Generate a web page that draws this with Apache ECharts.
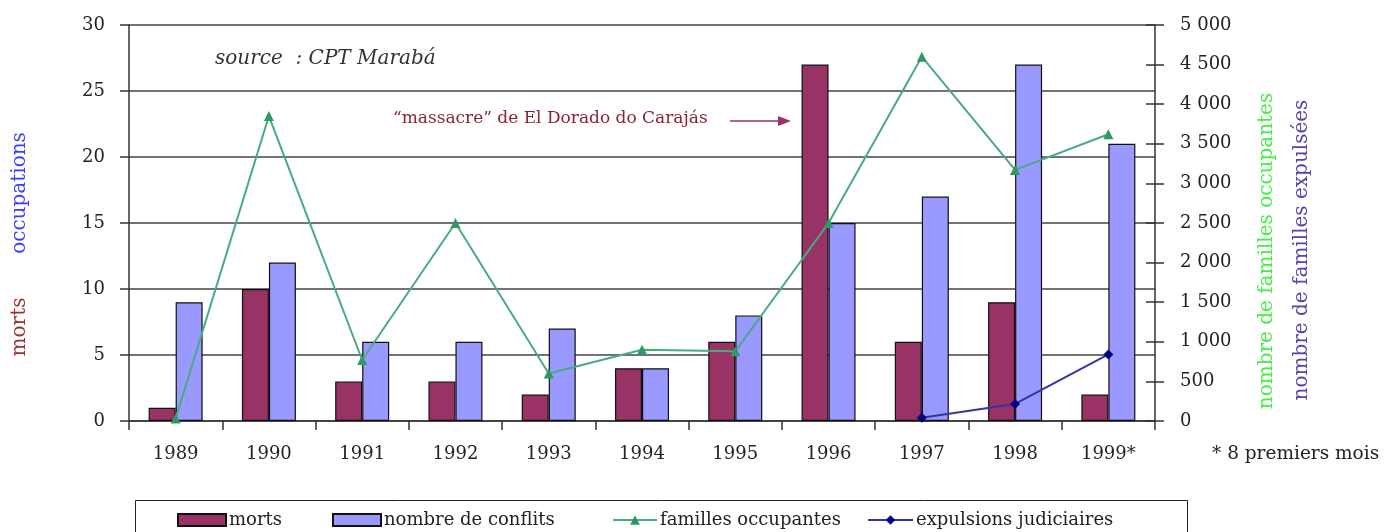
<!DOCTYPE html>
<html>
<head>
<meta charset="utf-8">
<script src="https://cdn.jsdelivr.net/npm/echarts@6/dist/echarts.min.js"></script>
<style>
  html, body { margin: 0; padding: 0; background: #fff; }
  #chart { width: 1389px; height: 532px; }
</style>
</head>
<body>
<div id="chart"></div>
<script>
// Years (1999 covers only the first eight months)
const years = ['1989', '1990', '1991', '1992', '1993', '1994', '1995', '1996', '1997', '1998', '1999*'];
// Left axis: deaths and number of conflicts (occupations)
const morts = [1, 10, 3, 3, 2, 4, 6, 27, 6, 9, 2];
const conflits = [9, 12, 6, 6, 7, 4, 8, 15, 17, 27, 21];
// Right axis: occupying families and families evicted by court order
const famillesOccupantes = [30, 3850, 770, 2500, 600, 900, 880, 2500, 4600, 3170, 3620];
const expulsions = [null, null, null, null, null, null, null, null, 40, 215, 840];
// Axis ticks
const leftTicks = { min: 0, max: 30, interval: 5 };
const rightTicks = { min: 0, max: 5000, interval: 500 };

const FONT = '"DejaVu Serif", "Liberation Serif", serif';
const TXT = '#222';
const FS = 18;

const chart = echarts.init(document.getElementById('chart'), null, { renderer: 'canvas' });

function thousands(v) {
  return String(v).replace(/\B(?=(\d{3})+(?!\d))/g, ' ');
}

const legendBase = {
  top: 511,
  padding: 0,
  itemHeight: 12,
  textStyle: { fontFamily: FONT, fontSize: 18, color: TXT, padding: [0, 0, 0, -2] },
  itemGap: 0
};

chart.setOption({
  animation: false,
  backgroundColor: '#ffffff',
  grid: { left: 129, right: 234, top: 25, bottom: 111, containLabel: false },
  xAxis: {
    type: 'category',
    data: years,
    boundaryGap: true,
    axisLine: { lineStyle: { color: '#333', width: 1.5 } },
    axisTick: { show: true, inside: false, length: 9, alignWithLabel: false, lineStyle: { color: '#333', width: 1.5 } },
    axisLabel: { fontFamily: FONT, fontSize: FS, color: TXT, margin: 24 }
  },
  yAxis: [
    {
      type: 'value',
      position: 'left',
      min: leftTicks.min, max: leftTicks.max, interval: leftTicks.interval,
      axisLine: { show: true, lineStyle: { color: '#333', width: 1.5 } },
      axisTick: { show: true, length: 9, lineStyle: { color: '#333', width: 1.5 } },
      axisLabel: { fontFamily: FONT, fontSize: FS, color: TXT, margin: 24 },
      splitLine: { show: true, lineStyle: { color: '#444', width: 1.6 } }
    },
    {
      type: 'value',
      position: 'right',
      min: rightTicks.min, max: rightTicks.max, interval: rightTicks.interval,
      axisLine: { show: true, lineStyle: { color: '#333', width: 1.5 } },
      axisTick: { show: true, length: 9, lineStyle: { color: '#333', width: 1.5 } },
      axisLabel: { fontFamily: FONT, fontSize: FS, color: TXT, margin: 25, formatter: thousands },
      splitLine: { show: false }
    },
    {
      // inner half of the crossing ticks on the right axis
      type: 'value',
      position: 'right',
      min: rightTicks.min, max: rightTicks.max, interval: rightTicks.interval,
      axisLine: { show: false },
      axisTick: { show: true, inside: true, length: 9, lineStyle: { color: '#333', width: 1.5 } },
      axisLabel: { show: false },
      splitLine: { show: false }
    }
  ],
  legend: [
    Object.assign({}, legendBase, { left: 177, itemWidth: 48, icon: 'rect', data: ['morts'] }),
    Object.assign({}, legendBase, { left: 332, itemWidth: 48, icon: 'rect', data: ['nombre de conflits'] }),
    Object.assign({}, legendBase, { left: 612, itemWidth: 44, data: ['familles occupantes'] }),
    Object.assign({}, legendBase, { left: 867, itemWidth: 45, data: ['expulsions judiciaires'] })
  ],
  series: [
    {
      name: 'morts',
      type: 'bar',
      yAxisIndex: 0,
      data: morts,
      barWidth: 27,
      barGap: '0%',
      itemStyle: { color: '#993366', borderColor: '#111', borderWidth: 1.2 }
    },
    {
      name: 'nombre de conflits',
      type: 'bar',
      yAxisIndex: 0,
      data: conflits,
      barWidth: 27,
      barGap: '0%',
      itemStyle: { color: '#9999ff', borderColor: '#111', borderWidth: 1.2 }
    },
    {
      name: 'familles occupantes',
      type: 'line',
      yAxisIndex: 1,
      data: famillesOccupantes,
      symbol: 'triangle',
      symbolSize: 10,
      lineStyle: { color: '#4aaa80', width: 2 },
      itemStyle: { color: '#2f9966' },
      z: 5
    },
    {
      name: 'expulsions judiciaires',
      type: 'line',
      yAxisIndex: 1,
      data: expulsions,
      symbol: 'diamond',
      symbolSize: 10,
      connectNulls: false,
      lineStyle: { color: '#3333aa', width: 2 },
      itemStyle: { color: '#000080' },
      z: 6
    }
  ],
  graphic: [
    {
      type: 'text', left: 215, top: 49,
      style: { text: 'source  : CPT Marabá', font: 'italic 20px ' + FONT, fill: '#333' }
    },
    {
      type: 'text', left: 393, top: 110,
      style: { text: '“massacre” de El Dorado do Carajás', font: '17px ' + FONT, fill: '#8b2335' }
    },
    {
      type: 'line',
      shape: { x1: 730, y1: 121, x2: 782, y2: 121 },
      style: { stroke: '#993366', lineWidth: 1.5 }
    },
    {
      type: 'polygon',
      shape: { points: [[778, 116], [791, 121], [778, 126]] },
      style: { fill: '#993366' }
    },
    {
      type: 'text', x: 20, y: 193, rotation: Math.PI / 2,
      style: { text: 'occupations', font: '20px ' + FONT, fill: '#3d3dff', align: 'center', verticalAlign: 'middle' }
    },
    {
      type: 'text', x: 20, y: 327, rotation: Math.PI / 2,
      style: { text: 'morts', font: '20px ' + FONT, fill: '#993333', align: 'center', verticalAlign: 'middle' }
    },
    {
      type: 'text', x: 1267, y: 251, rotation: Math.PI / 2,
      style: { text: 'nombre de familles occupantes', font: '20px ' + FONT, fill: '#44ee44', align: 'center', verticalAlign: 'middle' }
    },
    {
      type: 'text', x: 1302, y: 250, rotation: Math.PI / 2,
      style: { text: 'nombre de familles expulsées', font: '20px ' + FONT, fill: '#5544aa', align: 'center', verticalAlign: 'middle' }
    },
    {
      type: 'text', left: 1212, top: 445,
      style: { text: '* 8 premiers mois', font: '18.5px ' + FONT, fill: TXT }
    },
    {
      type: 'rect', z: -1,
      shape: { x: 135.5, y: 500.5, width: 1052, height: 50 },
      style: { fill: 'none', stroke: '#222', lineWidth: 1 }
    }
  ]
});
</script>
</body>
</html>
